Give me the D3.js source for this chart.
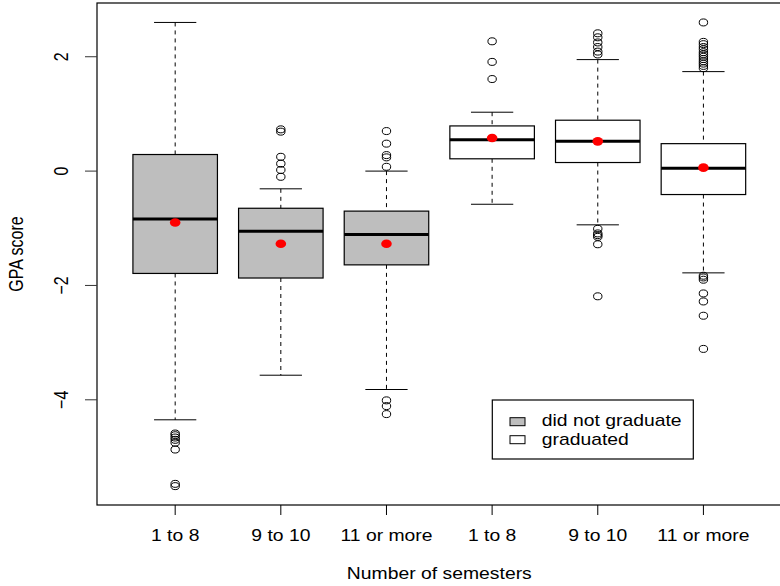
<!DOCTYPE html>
<html>
<head>
<meta charset="utf-8">
<script src="https://cdn.jsdelivr.net/npm/d3@7"></script>
<style>
  html, body { margin: 0; padding: 0; background: #fff; }
  text { font-family: "Liberation Sans", Arial, sans-serif; fill: #000; }
</style>
</head>
<body>
<svg id="chart" width="780" height="586"></svg>
<script>
// ---- data ----
const semesterLabels = ["1 to 8", "9 to 10", "11 or more", "1 to 8", "9 to 10", "11 or more"];
const graduatedFlag = [false, false, false, true, true, true];
const lowerWhisker = [-4.35, -3.57, -3.82, -0.58, -0.94, -1.78];
const q1Values     = [-1.79, -1.87, -1.64, 0.215, 0.15, -0.41];
const medianValues = [-0.84, -1.05, -1.11, 0.55, 0.52, 0.05];
const q3Values     = [0.29, -0.65, -0.70, 0.79, 0.89, 0.48];
const upperWhisker = [2.60, -0.31, 0.00, 1.03, 1.95, 1.74];
const meanValues   = [-0.90, -1.27, -1.27, 0.58, 0.52, 0.06];
const outlierValues = [
  [-4.59, -4.62, -4.66, -4.70, -4.75, -4.87, -5.47, -5.51],
  [0.73, 0.69, 0.25, 0.13, 0.02, -0.10],
  [0.70, 0.48, 0.28, 0.24, 0.075, -4.01, -4.11, -4.25],
  [2.27, 1.91, 1.61],
  [2.41, 2.34, 2.25, 2.17, 2.09, 2.04, -1.01, -1.09, -1.12, -1.15, -1.28, -2.19],
  [2.60, 2.26, 2.22, 2.17, 2.13, 2.08, 2.04, 2.00, 1.96, 1.92, 1.88, 1.84, 1.80,
   -1.83, -1.86, -1.90, -2.14, -2.28, -2.53, -3.11]
];
const yTickValues = [-4, -2, 0, 2];
const legendLabels = ["did not graduate", "graduated"];
const xTitle = "Number of semesters";
const yTitle = "GPA score";

// ---- layout ----
const svg = d3.select("#chart");
const plotLeft = 97, plotRight = 781.6, plotTop = 3, plotBottom = 505;
const SX = 1.21; // horizontal stretch of glyphs in the reference
const FS = 16;

const idx = semesterLabels.map((d, i) => i + 1);
const x = d3.scaleLinear().domain([0.26, 6.74]).range([plotLeft, plotRight]);
const y = d3.scaleLinear().domain([-5.84, 2.94]).range([plotBottom, plotTop]);
const boxHalf = (x(1.4) - x(1));        // boxwex 0.8
const capHalf = boxHalf / 2;            // staplewex 0.5
const fillColor = d => d ? "#ffffff" : "#bebebe";

const boxes = idx.map((k, i) => ({
  k, grad: graduatedFlag[i], lo: lowerWhisker[i], q1: q1Values[i], med: medianValues[i],
  q3: q3Values[i], hi: upperWhisker[i], mean: meanValues[i], out: outlierValues[i]
}));

const g = svg.append("g");

const bg = g.selectAll("g.box").data(boxes).enter().append("g").attr("class", "box");

// whiskers (dashed)
bg.append("line")
  .attr("x1", d => x(d.k)).attr("x2", d => x(d.k))
  .attr("y1", d => y(d.hi)).attr("y2", d => y(d.q3))
  .attr("stroke", "#000").attr("stroke-width", 1).attr("stroke-dasharray", "4,4");
bg.append("line")
  .attr("x1", d => x(d.k)).attr("x2", d => x(d.k))
  .attr("y1", d => y(d.q1)).attr("y2", d => y(d.lo))
  .attr("stroke", "#000").attr("stroke-width", 1).attr("stroke-dasharray", "4,4");
// staples
bg.append("line")
  .attr("x1", d => x(d.k) - capHalf).attr("x2", d => x(d.k) + capHalf)
  .attr("y1", d => y(d.hi)).attr("y2", d => y(d.hi))
  .attr("stroke", "#000").attr("stroke-width", 1);
bg.append("line")
  .attr("x1", d => x(d.k) - capHalf).attr("x2", d => x(d.k) + capHalf)
  .attr("y1", d => y(d.lo)).attr("y2", d => y(d.lo))
  .attr("stroke", "#000").attr("stroke-width", 1);
// box
bg.append("rect")
  .attr("x", d => x(d.k) - boxHalf).attr("width", 2 * boxHalf)
  .attr("y", d => y(d.q3)).attr("height", d => y(d.q1) - y(d.q3))
  .attr("fill", d => fillColor(d.grad)).attr("stroke", "#000").attr("stroke-width", 1.2);
// median
bg.append("line")
  .attr("x1", d => x(d.k) - boxHalf).attr("x2", d => x(d.k) + boxHalf)
  .attr("y1", d => y(d.med)).attr("y2", d => y(d.med))
  .attr("stroke", "#000").attr("stroke-width", 3);
// outliers
bg.each(function(d) {
  d3.select(this).selectAll("ellipse.out").data(d.out).enter().append("ellipse")
    .attr("class", "out")
    .attr("cx", x(d.k)).attr("cy", v => y(v))
    .attr("rx", 4.2).attr("ry", 3.5)
    .attr("fill", "none").attr("stroke", "#000").attr("stroke-width", 1);
});
// means
bg.append("ellipse")
  .attr("cx", d => x(d.k)).attr("cy", d => y(d.mean))
  .attr("rx", 5.3).attr("ry", 4.3).attr("fill", "#ff0000");

// frame
g.append("rect")
  .attr("x", plotLeft).attr("y", plotTop)
  .attr("width", plotRight - plotLeft).attr("height", plotBottom - plotTop)
  .attr("fill", "none").attr("stroke", "#000").attr("stroke-width", 1.2);

// y axis ticks + labels
const yAxis = g.append("g");
yAxis.selectAll("line").data(yTickValues).enter().append("line")
  .attr("x1", plotLeft - 12).attr("x2", plotLeft)
  .attr("y1", d => y(d)).attr("y2", d => y(d))
  .attr("stroke", "#333").attr("stroke-width", 1);
yAxis.selectAll("g.lab").data(yTickValues).enter().append("g").attr("class", "lab")
  .attr("transform", d => `translate(68,${y(d)}) scale(${SX},1) rotate(-90)`)
  .append("text").attr("text-anchor", "middle").attr("font-size", FS)
  .text(d => d < 0 ? "\u2212" + Math.abs(d) : String(d));

// x axis ticks + labels
const xAxis = g.append("g");
xAxis.selectAll("line").data(idx).enter().append("line")
  .attr("x1", d => x(d)).attr("x2", d => x(d))
  .attr("y1", plotBottom).attr("y2", plotBottom + 10)
  .attr("stroke", "#000").attr("stroke-width", 1);
xAxis.selectAll("g.lab").data(idx).enter().append("g").attr("class", "lab")
  .attr("transform", d => `translate(${x(d)},541) scale(${SX},1)`)
  .append("text").attr("text-anchor", "middle").attr("font-size", FS)
  .text((d, i) => semesterLabels[i]);

// axis titles
g.append("g").attr("transform", `translate(${(plotLeft + plotRight) / 2},579) scale(${SX},1)`)
  .append("text").attr("text-anchor", "middle").attr("font-size", FS).text(xTitle);
g.append("g").attr("transform", `translate(23,${(plotTop + plotBottom) / 2}) scale(${SX},1) rotate(-90)`)
  .append("text").attr("text-anchor", "middle").attr("font-size", FS).text(yTitle);

// legend
const lg = g.append("g");
lg.append("rect").attr("x", 492.3).attr("y", 400).attr("width", 201).attr("height", 59)
  .attr("fill", "#fff").attr("stroke", "#000").attr("stroke-width", 1.2);
legendLabels.forEach((lab, i) => {
  lg.append("rect").attr("x", 510).attr("y", 417.7 + i * 18).attr("width", 15).attr("height", 8)
    .attr("fill", fillColor(i === 1)).attr("stroke", "#000").attr("stroke-width", 1);
  lg.append("g").attr("transform", `translate(541.7,${426 + i * 19}) scale(${SX},1)`)
    .append("text").attr("font-size", FS).text(lab);
});
</script>
</body>
</html>
